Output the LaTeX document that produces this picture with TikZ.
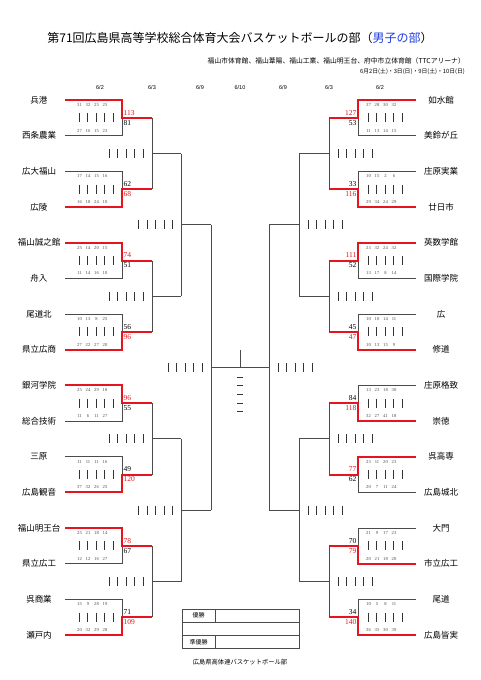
\documentclass[tikz,border=0pt]{standalone}
\usepackage{fontspec}
\newfontfamily\jpf{Noto Sans CJK JP}
\newfontfamily\serf{Liberation Serif}
\newfontfamily\sanf{Liberation Sans}
\definecolor{winred}{RGB}{230,20,30}
\definecolor{linegray}{RGB}{75,75,75}
\definecolor{titleblue}{RGB}{30,60,220}
\tikzset{
 team/.style={font=\jpf\fontsize{8.5}{9}\selectfont, inner sep=0pt},
 qsc/.style={font=\serf\fontsize{4.6}{5}\selectfont, inner sep=0pt, text=linegray},
 score/.style={font=\serf\fontsize{7.5}{8}\selectfont, inner sep=0pt},
 hdr/.style={font=\sanf\fontsize{5.5}{6}\selectfont, inner sep=0pt},
 gl/.style={draw=linegray, line width=0.9pt},
 wl/.style={draw=winred, line width=2pt, line join=miter},
 barl/.style={draw=black!80, line width=0.8pt},
 small/.style={font=\jpf\fontsize{6}{7}\selectfont, inner sep=0pt},
}
% left first-round match
\newcommand\lmatch[8]{%
 \pgfmathsetmacro\yt{100+71.3333*#1}%
 \pgfmathsetmacro\yb{\yt+35.6667}%
 \pgfmathsetmacro\ym{\yt+17.8333}%
 \node[team] (LT#1) at (39,\yt) {#2};
 \node[team] (LB#1) at (39,\yb) {#3};
 \coordinate (LTs#1) at (65,\yt);
 \coordinate (LTe#1) at (122,\yt);
 \coordinate (LBs#1) at (65,\yb);
 \coordinate (LBe#1) at (122,\yb);
 \coordinate (LM#1) at (122,\ym);
 \coordinate (LO#1) at (152,\ym);
 \draw[gl] (LTs#1) -- (LTe#1) -- (LBe#1) -- (LBs#1);
 \if#8t
  \draw[wl] (LTs#1) -- (LTe#1) -- (LM#1) -- (LO#1);
  \def\tcol{winred}\def\bcol{black}%
 \else
  \draw[wl] (LBs#1) -- (LBe#1) -- (LM#1) -- (LO#1);
  \def\tcol{black}\def\bcol{winred}%
 \fi
 \node[score, anchor=west, text=\tcol] (LSt#1) at (123.5,\ym-5) {#6};
 \node[score, anchor=west, text=\bcol] (LSb#1) at (123.5,\ym+5) {#7};
 \foreach \q [count=\k from 0] in {#4} {\node[qsc] (LQt#1-\k) at ({79.5+8.5*\k},\yt+5) {\q};}
 \foreach \q [count=\k from 0] in {#5} {\node[qsc] (LQb#1-\k) at ({79.5+8.5*\k},\yb-5) {\q};}
 \foreach \k in {0,...,4} {\draw[barl] ({79+8.5*\k},\ym-4.5) -- ++(0,9);}
}
% right first-round match
\newcommand\rmatch[8]{%
 \pgfmathsetmacro\yt{100+71.3333*#1}%
 \pgfmathsetmacro\yb{\yt+35.6667}%
 \pgfmathsetmacro\ym{\yt+17.8333}%
 \node[team] (RT#1) at (441,\yt) {#2};
 \node[team] (RB#1) at (441,\yb) {#3};
 \coordinate (RTs#1) at (416,\yt);
 \coordinate (RTe#1) at (358,\yt);
 \coordinate (RBs#1) at (416,\yb);
 \coordinate (RBe#1) at (358,\yb);
 \coordinate (RM#1) at (358,\ym);
 \coordinate (RO#1) at (329,\ym);
 \draw[gl] (RTs#1) -- (RTe#1) -- (RBe#1) -- (RBs#1);
 \if#8t
  \draw[wl] (RTs#1) -- (RTe#1) -- (RM#1) -- (RO#1);
  \def\tcol{winred}\def\bcol{black}%
 \else
  \draw[wl] (RBs#1) -- (RBe#1) -- (RM#1) -- (RO#1);
  \def\tcol{black}\def\bcol{winred}%
 \fi
 \node[score, anchor=east, text=\tcol] (RSt#1) at (356.5,\ym-5) {#6};
 \node[score, anchor=east, text=\bcol] (RSb#1) at (356.5,\ym+5) {#7};
 \foreach \q [count=\k from 0] in {#4} {\node[qsc] (RQt#1-\k) at ({368.5+8.5*\k},\yt+5) {\q};}
 \foreach \q [count=\k from 0] in {#5} {\node[qsc] (RQb#1-\k) at ({368.5+8.5*\k},\yb-5) {\q};}
 \foreach \k in {0,...,4} {\draw[barl] ({368+8.5*\k},\ym-4.5) -- ++(0,9);}
}
\newcommand\barset[2]{\foreach \k in {0,...,4} {\draw[barl] ({#1+8.5*\k},#2-4.5) -- ++(0,9);}}

\begin{document}
\begin{tikzpicture}[x=1pt,y=-1pt]
\fill[white] (0,0) rectangle (481,680);
\useasboundingbox (0,0) rectangle (481,680);

% titles
\node[font=\jpf\fontsize{12}{13}\selectfont, inner sep=0pt] (title) at (240,38)
 {第71回広島県高等学校総合体育大会バスケットボールの部（\textcolor{titleblue}{男子の部}）};
\node[font=\jpf\fontsize{6.8}{7}\selectfont, inner sep=0pt, anchor=east] (venue) at (465,61)
 {福山市体育館、福山葦陽、福山工業、福山明王台、府中市立体育館（TTCアリーナ）};
\node[font=\jpf\fontsize{5.8}{6}\selectfont, inner sep=0pt, anchor=east] (dates) at (465,72)
 {6月2日(土)・3日(日)・9日(土)・10日(日)};

% round headers
\node[hdr] (h1) at (100,88) {6/2};
\node[hdr] (h2) at (152,88) {6/3};
\node[hdr] (h3) at (200,88) {6/9};
\node[hdr] (h4) at (240,88) {6/10};
\node[hdr] (h5) at (283,88) {6/9};
\node[hdr] (h6) at (329,88) {6/3};
\node[hdr] (h7) at (380,88) {6/2};

% first round, left
\lmatch{0}{兵港}{西条農業}{31,32,25,25}{27,16,15,23}{113}{81}{t}
\lmatch{1}{広大福山}{広陵}{17,14,15,16}{16,18,24,10}{62}{68}{b}
\lmatch{2}{福山誠之館}{舟入}{25,14,20,15}{11,14,16,10}{74}{51}{t}
\lmatch{3}{尾道北}{県立広商}{10,13,8,25}{27,22,27,20}{56}{96}{b}
\lmatch{4}{銀河学院}{総合技術}{25,24,29,18}{11,6,11,27}{96}{55}{t}
\lmatch{5}{三原}{広島観音}{11,11,11,16}{37,32,26,25}{49}{120}{b}
\lmatch{6}{福山明王台}{県立広工}{25,21,18,14}{12,12,16,27}{78}{67}{t}
\lmatch{7}{呉商業}{瀬戸内}{15,9,28,19}{20,32,29,28}{71}{109}{b}

% first round, right
\rmatch{0}{如水館}{美鈴が丘}{37,28,30,32}{11,13,14,15}{127}{53}{t}
\rmatch{1}{庄原実業}{廿日市}{10,15,2,6}{29,34,24,29}{33}{116}{b}
\rmatch{2}{英数学館}{国際学院}{23,32,24,32}{13,17,8,14}{111}{52}{t}
\rmatch{3}{広}{修道}{10,10,14,11}{10,13,15,9}{45}{47}{b}
\rmatch{4}{庄原格致}{崇徳}{13,23,18,30}{32,27,41,18}{84}{118}{b}
\rmatch{5}{呉高専}{広島城北}{23,11,20,23}{20,7,11,24}{77}{62}{t}
\rmatch{6}{大門}{市立広工}{21,9,17,23}{20,21,18,20}{70}{79}{b}
\rmatch{7}{尾道}{広島皆実}{10,5,8,11}{36,35,30,39}{34}{140}{b}

% second round
\foreach \k/\a/\b in {0/0/1,1/2/3,2/4/5,3/6/7} {
 \pgfmathsetmacro\yr{153.5+142.6667*\k}
 \coordinate (L2a\k) at (152,\yr);
 \coordinate (L2b\k) at (181,\yr);
 \coordinate (R2a\k) at (329,\yr);
 \coordinate (R2b\k) at (299,\yr);
 \draw[gl] (LO\a) -- (LO\b);
 \draw[gl] (L2a\k) -- (L2b\k);
 \draw[gl] (RO\a) -- (RO\b);
 \draw[gl] (R2a\k) -- (R2b\k);
 \barset{109}{\yr}
 \barset{338}{\yr}
}
% third round
\foreach \q/\a/\b in {0/0/1,1/2/3} {
 \pgfmathsetmacro\yr{224.8333+285.3333*\q}
 \coordinate (L3a\q) at (181,\yr);
 \coordinate (L3b\q) at (211,\yr);
 \coordinate (R3a\q) at (299,\yr);
 \coordinate (R3b\q) at (269,\yr);
 \draw[gl] (L2b\a) -- (L2b\b);
 \draw[gl] (L3a\q) -- (L3b\q);
 \draw[gl] (R2b\a) -- (R2b\b);
 \draw[gl] (R3a\q) -- (R3b\q);
 \barset{138.5}{\yr}
 \barset{308}{\yr}
}
% semifinals and final
\draw[gl] (L3b0) -- (L3b1);
\draw[gl] (R3b0) -- (R3b1);
\coordinate (L4) at (211,367.5);
\coordinate (R4) at (269,367.5);
\draw[gl] (L4) -- (R4);
\barset{168}{367.5}
\barset{278}{367.5}
\coordinate (C0) at (240,350);
\coordinate (C1) at (240,367.5);
\draw[gl] (C0) -- (C1);
\foreach \d in {377,385.5,394,403,411.5} {\draw[barl] (237,\d) -- (243,\d);}

% result table
\coordinate (B1) at (182,609);
\coordinate (B2) at (299,648);
\draw[gl, line width=0.7pt] (B1) rectangle (B2);
\draw[gl, line width=0.7pt] (182,622) -- (299,622);
\draw[gl, line width=0.7pt] (182,635.5) -- (299,635.5);
\draw[gl, line width=0.7pt] (215,609) -- (215,622);
\draw[gl, line width=0.7pt] (215,635.5) -- (215,648);
\node[small] (win1) at (198.5,615.5) {優勝};
\node[small] (win2) at (198.5,642) {準優勝};

\node[font=\jpf\fontsize{6.3}{7}\selectfont, inner sep=0pt] (foot) at (240,662) {広島県高体連バスケットボール部};
\end{tikzpicture}
\end{document}
